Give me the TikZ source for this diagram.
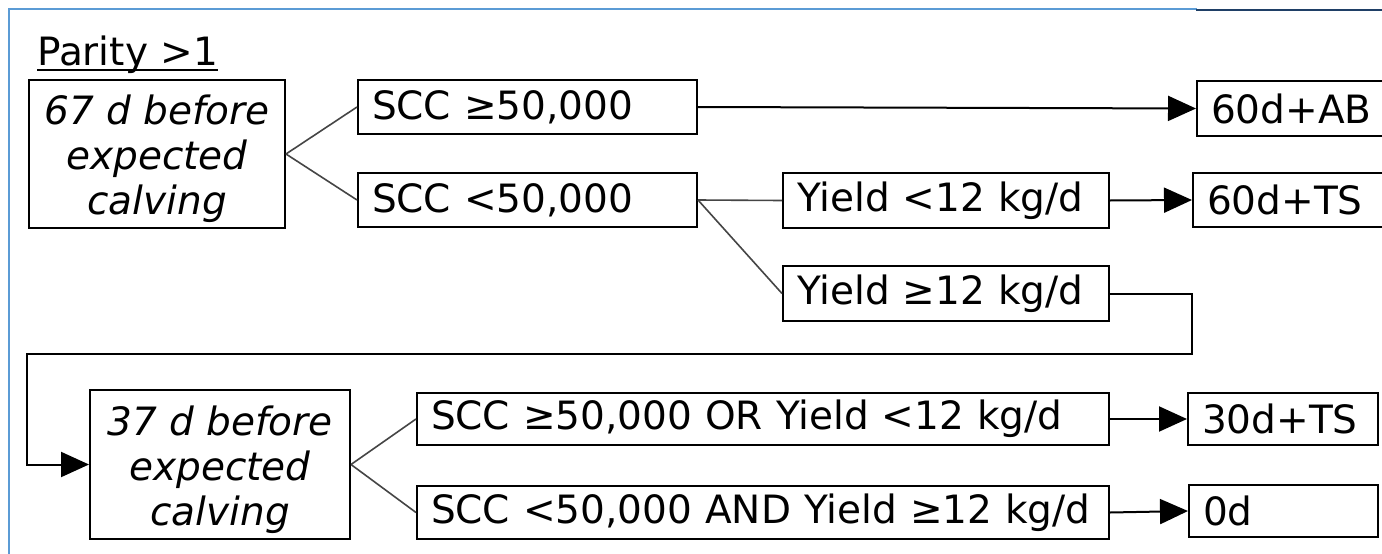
\documentclass[tikz,border=0pt]{standalone}
\usepackage{fontspec}
\setmainfont{DejaVu Sans}
\usetikzlibrary{arrows.meta}
\definecolor{edgeblue}{HTML}{5B9BD5}
\definecolor{edgedark}{HTML}{1F3F66}
\definecolor{branchgray}{HTML}{454545}
\begin{document}
\begin{tikzpicture}[x=1pt,y=-1pt,
  txt/.style={font=\fontsize{39}{46}\selectfont, inner sep=0pt},
  box/.style={txt, draw=black, line width=2pt, rectangle, inner xsep=14pt,
    inner ysep=0pt, align=left, anchor=north west},
  stagebox/.style={txt, draw=black, line width=2pt, rectangle, align=center,
    anchor=north west, font=\fontsize{39}{45}\selectfont\itshape},
  branch/.style={draw=branchgray, line width=1.6pt},
  flow/.style={draw=black, line width=2pt, -{Triangle[length=28pt,width=25pt]}}
]
% page area
\fill[white] (0,0) rectangle (1382,554);
\clip (0,0) rectangle (1382,554);
\draw[edgeblue, line width=1.6pt] (9,556) -- (9,9) -- (1197,9);
\draw[edgedark, line width=2pt] (1196,9.5) -- (1384,9.5);

% heading
\node[txt, anchor=base west] (par) at (37,65) {Parity >1};
\draw[line width=2pt] ([yshift=-5pt]par.base west) -- ([yshift=-5pt]par.base east);

% first decision stage
\node[stagebox, minimum width=256pt, minimum height=148pt] (A) at (28,79)
  {\rule{0pt}{40pt}67 d before\\expected\\calving};
\node[box, text width=311pt, minimum height=54pt] (s1) at (357,79) {\mbox{SCC ≥50,000}};
\node[box, text width=311pt, minimum height=54pt] (s2) at (357,172) {\mbox{SCC <50,000}};
\node[box, text width=298pt, minimum height=55pt] (y1) at (782,172) {\mbox{Yield <12 kg/d}};
\node[box, text width=298pt, minimum height=55pt] (y2) at (782,265) {\mbox{Yield ≥12 kg/d}};
\node[box, text width=172pt, minimum height=55pt] (o1) at (1196,80) {\mbox{60d+AB}};
\node[box, text width=162pt, minimum height=54pt] (o2) at (1192,172) {\mbox{60d+TS}};

% second decision stage
\node[stagebox, minimum width=260pt, minimum height=149pt] (B) at (89,389)
  {\rule{0pt}{40pt}37 d before\\expected\\calving};
\node[box, text width=664pt, minimum height=52pt] (c1) at (416,392)
  {\mbox{SCC ≥50,000 OR Yield <12 kg/d}};
\node[box, text width=664pt, minimum height=53pt] (c2) at (416,485)
  {\mbox{SCC <50,000 AND Yield ≥12 kg/d}};
\node[box, text width=162pt, minimum height=52pt] (o3) at (1187,392) {\mbox{30d+TS}};
\node[box, text width=161pt, minimum height=52pt] (o4) at (1188,484) {\mbox{0d}};

% branches
\draw[branch] (A.east) -- (s1.west);
\draw[branch] (A.east) -- (s2.west);
\draw[branch] (s2.east) -- (y1.west);
\draw[branch] (s2.east) -- (y2.west);
\draw[branch] (B.east) -- (c1.west);
\draw[branch] (B.east) -- (c2.west);

% outcomes
\draw[flow] (s1.east) -- (o1.west);
\draw[flow] (y1.east) -- (o2.west);
\draw[flow] (c1.east) -- (o3.west);
\draw[flow] (c2.east) -- (o4.west);

% hand-over to the second stage
\coordinate (turnR) at (1192,354);
\coordinate (turnL) at (27,354);
\draw[flow] (y2.east) -| (turnR) -- (turnL) |- (B.west);
\end{tikzpicture}
\end{document}
